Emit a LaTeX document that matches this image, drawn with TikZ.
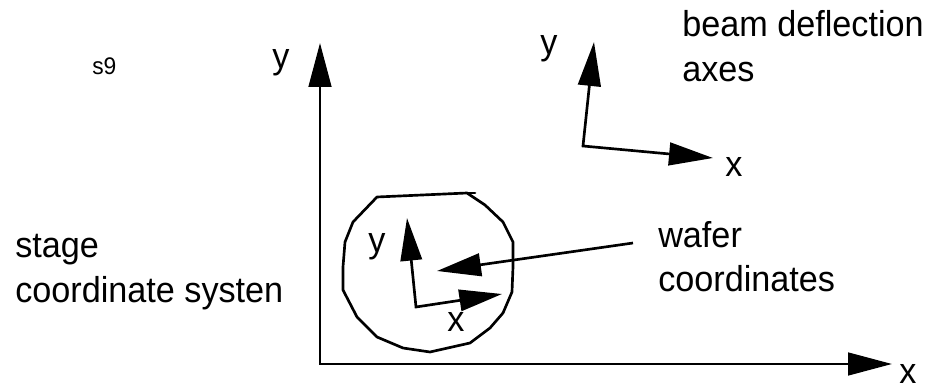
\documentclass[tikz,border=0pt]{standalone}
\usepackage{fontspec}
\setmainfont[FakeStretch=0.95]{Liberation Sans}
\usetikzlibrary{arrows.meta}
\begin{document}
\begin{tikzpicture}[x=0.75pt,y=-0.75pt,
  bigtip/.tip={Triangle[length=33pt,width=17pt]},
  axisline/.style={line width=2pt, line join=miter},
  lbl/.style={anchor=base west, inner sep=0pt, font=\fontsize{27pt}{32pt}\selectfont},
  smalllbl/.style={anchor=base west, inner sep=0pt, font=\fontsize{18pt}{22pt}\selectfont},
  outline/.style={line width=2pt, line join=round, line cap=round}]
\useasboundingbox (0,0) rectangle (926,391);

% stage axes
\coordinate (so) at (320,364);
\coordinate (sy) at (320,43);
\coordinate (sx) at (892,364);
\draw[axisline, bigtip-bigtip] (sy) -- (so) -- (sx);

% beam deflection axes
\coordinate (bo) at (583,146);
\coordinate (by) at (594,42);
\coordinate (bx) at (713,158);
\draw[axisline, bigtip-bigtip] (by) -- (bo) -- (bx);

% wafer outline
\draw[outline] (377,197) -- (467,193) -- (485,205) -- (503,222) -- (513,242)
  -- (513,267) -- (512,292) -- (503,313) -- (490,328) -- (470,343)
  -- (430,352) -- (403,348) -- (377,337) -- (357,317) -- (343,290)
  -- (343,267) -- (345,242) -- (353,222) -- cycle;
\coordinate (wl) at (467,193);
\coordinate (wr) at (475,193);
\draw[outline] (wl) -- (wr);

% wafer axes
\coordinate (wo) at (416,307);
\coordinate (wy) at (407,218);
\coordinate (wx) at (502,294);
\draw[axisline, {Triangle[length=32pt,width=16pt]}-{Triangle[length=32pt,width=16pt]}] (wy) -- (wo) -- (wx);

% labels
\node[smalllbl] (s9) at (92,75) {s9};
\node[lbl] (stagey) at (272,69) {y};
\node[lbl] (stagex) at (899,384) {x};
\node[lbl] (beam1) at (682,37) {beam deflection};
\node[lbl] (beam2) at (682,82) {axes};
\node[lbl] (beamy) at (540,55) {y};
\node[lbl] (beamx) at (725,177) {x};
\node[lbl] (wafer1) at (658,248) {wafer};
\node[lbl] (wafer2) at (658,292) {coordinates};
\node[lbl] (stage1) at (15,258) {stage};
\node[lbl] (stage2) at (15,303) {coordinate systen};
\node[lbl] (wafery) at (368,253) {y};
\node[lbl] (waferx) at (447,332) {x};

% pointer
\coordinate (ps) at (633,243);
\coordinate (pt) at (437,271);
\draw[line width=2pt, -{Triangle[length=33pt,width=17pt]}] (ps) -- (pt);
\end{tikzpicture}
\end{document}
